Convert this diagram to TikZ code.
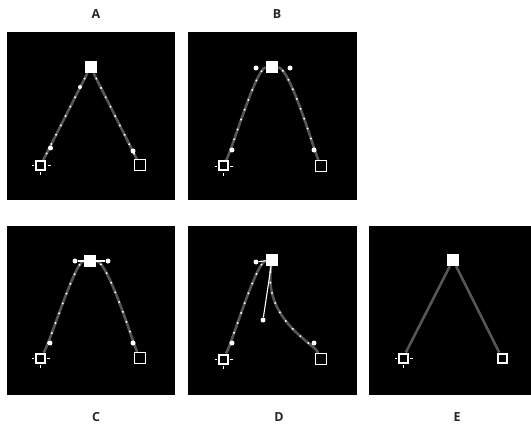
\documentclass[tikz,border=0pt]{standalone}
\usepackage{fontspec}
\setsansfont{Open Sans}
\usetikzlibrary{decorations.markings,backgrounds}
\definecolor{pathgray}{HTML}{5A5454}
\newcommand{\xhair}[1]{\draw[white, line width=0.8pt] ([xshift=1.5pt]#1.east) -- ++(3,0) ([xshift=-1pt]#1.west) -- ++(-2,0) ([yshift=-1.5pt]#1.south) -- ++(0,3);}

\begin{document}
\begin{tikzpicture}[x=1pt, y=-1pt, font=\sffamily\bfseries\fontsize{12.5}{14}\selectfont,
  panel/.style={fill=black},
  seg/.style={pathgray, line width=2.6pt, postaction={decorate, decoration={markings,
    mark=between positions 6pt and -4pt step 10.5pt with {\fill[white] (0,0) circle (1.1pt);}}}},
  plain/.style={pathgray, line width=2.6pt},
  anc/.style={fill=white, inner sep=0pt, minimum size=12pt},
  anccur/.style={draw=white, fill=black, line width=2pt, inner sep=0pt, minimum size=9pt},
  ancopen/.style={draw=white, fill=black, line width=1pt, inner sep=0pt, minimum size=11pt},
  hdl/.style={circle, fill=white, inner sep=0pt, minimum size=5pt},
  hline/.style={white, line width=1.1pt},
  lbl/.style={text=black!85}]
  \useasboundingbox (0,0) rectangle (531,428);
  % labels
  \node[lbl] (la) at (96,14.5) {A};
  \node[lbl] (lb) at (277,14.5) {B};
  \node[lbl] (lc) at (96,417) {C};
  \node[lbl] (ld) at (279,417) {D};
  \node[lbl] (le) at (457,417) {E};
  % A: straight segments
  \begin{scope}[shift={(7,32)}]
    \node[anc] (At) at (83.5,35) {};
    \node[anccur] (Al) at (33.5,133.5) {};
    \node[ancopen] (Ar) at (133,133.5) {};
    \node[hdl, minimum size=4pt] (Ah1) at (73,55) {};
    \node[hdl] (Ah2) at (43.5,116) {};
    \node[hdl] (Ah3) at (126,119) {};
    \xhair{Al}
    \begin{scope}[on background layer]
      \fill[panel] (0,0) rectangle (168,168);
      \draw[seg] (At) -- (Al);
      \draw[seg] (At) -- (Ar);
    \end{scope}
  \end{scope}
  % B: smooth point, handles shown
  \begin{scope}[shift={(188,32)}]
    \node[anc] (Bt) at (84,35) {};
    \node[anccur] (Bl) at (35,134) {};
    \node[ancopen] (Br) at (133,134) {};
    \node[hdl] (Bh1) at (68,36) {};
    \node[hdl] (Bh2) at (102,36) {};
    \node[hdl] (Bh3) at (44,118) {};
    \node[hdl] (Bh4) at (126,118) {};
    \xhair{Bl}
    \begin{scope}[on background layer]
      \fill[panel] (0,0) rectangle (169,168);
      \draw[seg] (Bt) .. controls (Bh1.center) and (Bh3.center) .. (Bl);
      \draw[seg] (Bt) .. controls (Bh2.center) and (Bh4.center) .. (Br);
    \end{scope}
  \end{scope}
  % C: smooth point with direction line
  \begin{scope}[shift={(7,226)}]
    \node[anc] (Ct) at (83,35) {};
    \node[anccur] (Cl) at (33,132) {};
    \node[ancopen] (Cr) at (133,132) {};
    \node[hdl] (Ch1) at (68,35) {};
    \node[hdl] (Ch2) at (101,35) {};
    \node[hdl] (Ch3) at (43,117) {};
    \node[hdl] (Ch4) at (126,117) {};
    \xhair{Cl}
    \draw[hline] (Ch1) -- (Ct);
    \draw[hline] (Ct) -- (Ch2);
    \begin{scope}[on background layer]
      \fill[panel] (0,0) rectangle (168,169);
      \draw[seg] (Ct) .. controls (Ch1.center) and (Ch3.center) .. (Cl);
      \draw[seg] (Ct) .. controls (Ch2.center) and (Ch4.center) .. (Cr);
    \end{scope}
  \end{scope}
  % D: one handle dragged
  \begin{scope}[shift={(188,226)}]
    \node[anc] (Dt) at (84,34) {};
    \node[anccur] (Dl) at (35,133) {};
    \node[ancopen] (Dr) at (133,133) {};
    \node[hdl] (Dh1) at (68,36) {};
    \node[hdl] (Dh2) at (75,94) {};
    \node[hdl] (Dh3) at (44,117) {};
    \node[hdl] (Dh4) at (126,117) {};
    \xhair{Dl}
    \draw[hline] (Dh1) -- (Dt);
    \draw[hline] (Dt) -- (Dh2);
    \begin{scope}[on background layer]
      \fill[panel] (0,0) rectangle (169,169);
      \draw[seg] (Dt) .. controls (Dh1.center) and (Dh3.center) .. (Dl);
      \draw[seg] (Dt) .. controls (Dh2.center) and (Dh4.center) .. (Dr);
    \end{scope}
  \end{scope}
  % E: result, corner point
  \begin{scope}[shift={(369,226)}]
    \node[anc] (Et) at (84,34) {};
    \node[anccur] (El) at (34,132) {};
    \node[anccur] (Er) at (133,132) {};
    \xhair{El}
    \begin{scope}[on background layer]
      \fill[panel] (0,0) rectangle (162,169);
      \draw[plain] (Et) -- (El);
      \draw[plain] (Et) -- (Er);
    \end{scope}
  \end{scope}
\end{tikzpicture}
\end{document}
